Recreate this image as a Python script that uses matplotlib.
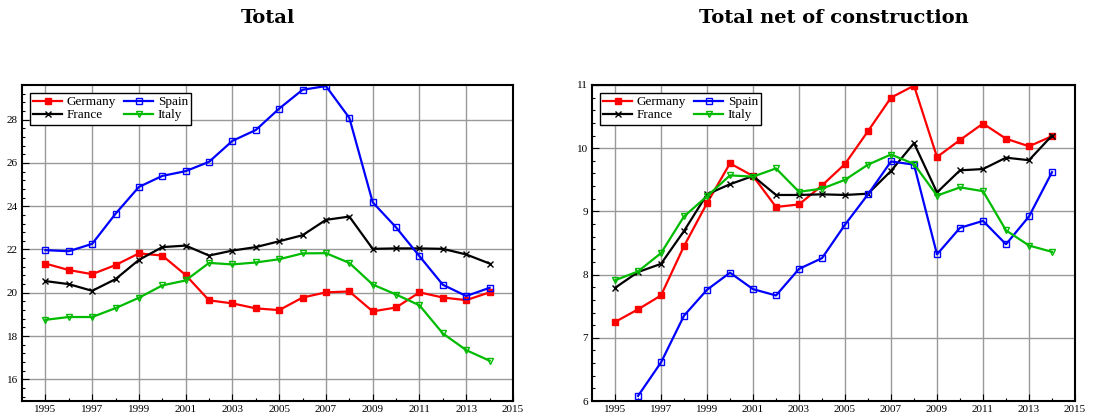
import matplotlib
matplotlib.use("Agg")
import matplotlib.pyplot as plt
import numpy as np
from matplotlib.ticker import MultipleLocator

plt.rcParams['font.family'] = ['Liberation Serif', 'DejaVu Serif']

years = np.arange(1995, 2015)

# Total
tot_germany = [21.35, 21.05, 20.86, 21.28, 21.82, 21.72, 20.82, 19.65, 19.51, 19.28,
               19.20, 19.78, 20.02, 20.06, 19.14, 19.32, 20.02, 19.78, 19.66, 20.02]
tot_spain = [21.97, 21.92, 22.26, 23.65, 24.89, 25.40, 25.62, 26.05, 27.02, 27.52,
             28.51, 29.38, 29.55, 28.08, 24.18, 23.02, 21.69, 20.37, 19.85, 20.23]
tot_france = [20.54, 20.40, 20.09, 20.63, 21.52, 22.11, 22.18, 21.72, 21.95, 22.11,
              22.38, 22.66, 23.37, 23.52, 22.03, 22.05, 22.05, 22.03, 21.77, 21.35]
tot_italy = [18.75, 18.88, 18.88, 19.29, 19.77, 20.34, 20.57, 21.38, 21.31, 21.40,
             21.55, 21.82, 21.83, 21.38, 20.38, 19.92, 19.42, 18.12, 17.35, 16.86]

# Total net of construction (Spain 1995 off the scale)
net_germany = [7.25, 7.45, 7.67, 8.45, 9.13, 9.76, 9.56, 9.07, 9.11, 9.41,
               9.75, 10.27, 10.80, 10.99, 9.86, 10.13, 10.39, 10.15, 10.03, 10.19]
net_spain = [np.nan, 6.08, 6.61, 7.35, 7.76, 8.03, 7.77, 7.67, 8.09, 8.26,
             8.79, 9.27, 9.79, 9.74, 8.32, 8.74, 8.85, 8.48, 8.92, 9.62]
net_france = [7.79, 8.04, 8.17, 8.69, 9.27, 9.43, 9.56, 9.26, 9.26, 9.27,
              9.26, 9.28, 9.64, 10.08, 9.30, 9.65, 9.67, 9.85, 9.81, 10.20]
net_italy = [7.91, 8.05, 8.34, 8.92, 9.24, 9.57, 9.55, 9.68, 9.31, 9.36,
             9.50, 9.74, 9.90, 9.75, 9.25, 9.38, 9.32, 8.70, 8.46, 8.36]

fig = plt.figure(figsize=(11.02, 4.19), dpi=100)
ax1 = fig.add_axes([22/1102, 18/419, 491/1102, 316/419])
ax2 = fig.add_axes([592/1102, 18/419, 483/1102, 316/419])


def draw(ax, ger, spa, fra, ita, ylim, ymaj, ymin, title):
    ax.plot(years, ger, color='#ff0000', marker='s', ms=5, lw=1.6, label='Germany')
    ax.plot(years, fra, color='black', marker='x', ms=5, mew=1.0, lw=1.6, label='France')
    ax.plot(years, spa, color='#0000ff', marker='s', ms=5, mfc='none', mew=1.0, lw=1.6, label='Spain')
    ax.plot(years, ita, color='#00bb00', marker='v', ms=5, mfc='none', mew=1.0, lw=1.6, label='Italy')
    ax.set_xlim(1994, 2015)
    ax.set_ylim(*ylim)
    ax.set_xticks(np.arange(1995, 2016, 2))
    ax.set_xticks(np.arange(1996, 2015, 2), minor=True)
    ax.yaxis.set_major_locator(MultipleLocator(ymaj))
    ax.yaxis.set_minor_locator(MultipleLocator(ymin))
    ax.grid(True, which='major', color='#999999', lw=1.0)
    ax.set_axisbelow(True)
    ax.tick_params(which='both', direction='in', labelsize=8, pad=3)
    ax.tick_params(which='major', length=5, width=0.8)
    ax.tick_params(which='minor', length=2.5, width=0.8)
    for s in ax.spines.values():
        s.set_linewidth(1.5)
    leg = ax.legend(loc='upper left', ncol=2, fontsize=9.5, frameon=True, fancybox=False,
                    edgecolor='black', framealpha=1, borderpad=0.25, handlelength=2.2,
                    handletextpad=0.35, columnspacing=0.6, labelspacing=0.05,
                    borderaxespad=0.6)
    leg.get_frame().set_linewidth(1.0)
    pos = ax.get_position()
    fig.text((pos.x0 + pos.x1) / 2, 1 - 18/419, title, ha='center', va='center',
             fontsize=14, fontweight='bold', family='DejaVu Serif')


draw(ax1, tot_germany, tot_spain, tot_france, tot_italy, (15.0, 29.6), 2, 0.4,
     'Total')
draw(ax2, net_germany, net_spain, net_france, net_italy, (6.0, 11.0), 1, 0.2,
     'Total net of construction')

fig.savefig('out.png', dpi=100)
